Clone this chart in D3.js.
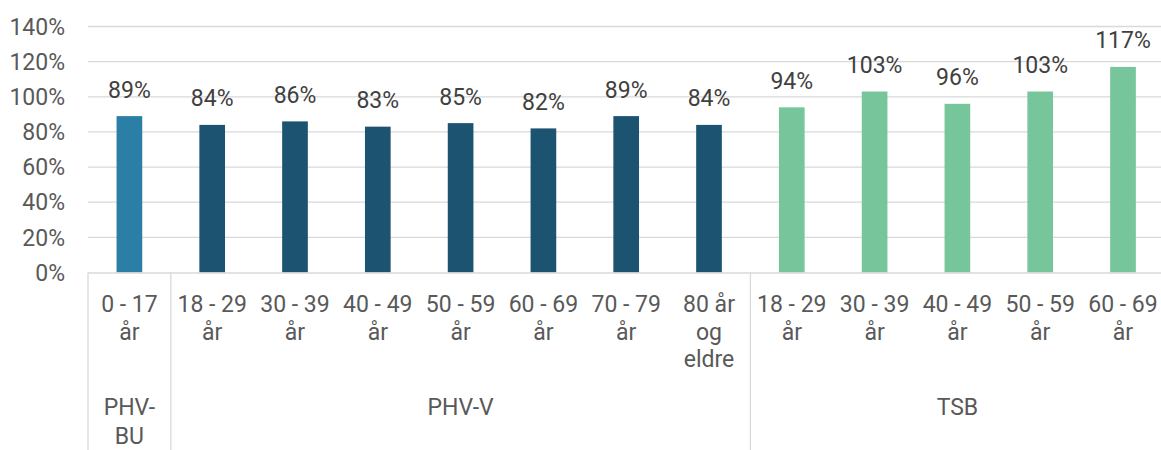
<!DOCTYPE html>
<html>
<head>
<meta charset="utf-8">
<script src="https://cdn.jsdelivr.net/npm/d3@7"></script>
<style>
  body { margin: 0; background: #fff; }
  svg { display: block; font-family: Roboto, sans-serif; }
</style>
</head>
<body>
<svg id="chart" width="1161" height="450"></svg>
<script>
// age categories (multi-line labels), values and groups
const categories = [
  ["0 - 17", "år"],
  ["18 - 29", "år"], ["30 - 39", "år"], ["40 - 49", "år"], ["50 - 59", "år"],
  ["60 - 69", "år"], ["70 - 79", "år"], ["80 år", "og", "eldre"],
  ["18 - 29", "år"], ["30 - 39", "år"], ["40 - 49", "år"], ["50 - 59", "år"], ["60 - 69", "år"]
];
const values = [0.89, 0.84, 0.86, 0.83, 0.85, 0.82, 0.89, 0.84, 0.94, 1.03, 0.96, 1.03, 1.17];
const groupOf = [0, 1, 1, 1, 1, 1, 1, 1, 2, 2, 2, 2, 2];
const groups = [["PHV-", "BU"], ["PHV-V"], ["TSB"]];
const groupColors = ["#2b7fa7", "#1b5370", "#76c59b"];
const yTicks = [0, 0.2, 0.4, 0.6, 0.8, 1.0, 1.2, 1.4];

const svg = d3.select("#chart");
const plotLeft = 88, plotRight = 1164.4, plotTop = 26.5, base = 272.5;
const lineH = 27.7;

const x = d3.scaleBand()
  .domain(d3.range(values.length))
  .range([plotLeft, plotRight])
  .paddingInner(0.69)
  .paddingOuter(0.345);
const step = x.step();

const y = d3.scaleLinear().domain([0, 1.4]).range([base, plotTop]);

// gridlines
svg.append("g")
  .selectAll("line")
  .data(yTicks.slice(1))
  .join("line")
  .attr("x1", plotLeft).attr("x2", plotRight)
  .attr("y1", d => y(d)).attr("y2", d => y(d))
  .attr("stroke", "#d9d9d9")
  .attr("stroke-width", 1.3);

// y axis labels
svg.append("g")
  .selectAll("text")
  .data(yTicks)
  .join("text")
  .attr("x", 65)
  .attr("y", d => y(d))
  .attr("dy", "0.36em")
  .attr("text-anchor", "end")
  .attr("fill", "#595959")
  .style("font-size", "23px")
  .text(d => d3.format(".0%")(d));

// bars
svg.append("g")
  .selectAll("rect")
  .data(values)
  .join("rect")
  .attr("x", (d, i) => x(i))
  .attr("width", x.bandwidth())
  .attr("y", d => y(d))
  .attr("height", d => base - y(d))
  .attr("fill", (d, i) => groupColors[groupOf[i]]);

// data labels
svg.append("g")
  .selectAll("text")
  .data(values)
  .join("text")
  .attr("x", (d, i) => x(i) + x.bandwidth() / 2)
  .attr("y", d => y(d) - 18.5)
  .attr("text-anchor", "middle")
  .attr("fill", "#404040")
  .style("font-size", "23px")
  .text(d => d3.format(".0%")(d));

// axis line
svg.append("line")
  .attr("x1", plotLeft).attr("x2", plotRight)
  .attr("y1", base + 0.5).attr("y2", base + 0.5)
  .attr("stroke", "#d9d9d9")
  .attr("stroke-width", 1.3);

// group separators
const groupBounds = groups.map((g, gi) => {
  const idx = d3.range(values.length).filter(i => groupOf[i] === gi);
  return [plotLeft + step * idx[0], plotLeft + step * (idx[idx.length - 1] + 1)];
});
const seps = [groupBounds[0][0]].concat(groupBounds.map(b => b[1]));
svg.append("g")
  .selectAll("line")
  .data(seps)
  .join("line")
  .attr("x1", d => d).attr("x2", d => d)
  .attr("y1", base).attr("y2", 450)
  .attr("stroke", "#d9d9d9")
  .attr("stroke-width", 1.3);

// category labels
const cat = svg.append("g")
  .selectAll("text")
  .data(categories)
  .join("text")
  .attr("text-anchor", "middle")
  .attr("fill", "#595959")
  .style("font-size", "23px");
cat.selectAll("tspan")
  .data((d, i) => d.map(t => ({ t, i })))
  .join("tspan")
  .attr("x", d => x(d.i) + x.bandwidth() / 2)
  .attr("y", (d, j) => 312 + j * lineH)
  .text(d => d.t);

// group labels
const grp = svg.append("g")
  .selectAll("text")
  .data(groups)
  .join("text")
  .attr("text-anchor", "middle")
  .attr("fill", "#595959")
  .style("font-size", "23px");
grp.selectAll("tspan")
  .data((d, gi) => d.map(t => ({ t, gi })))
  .join("tspan")
  .attr("x", d => (groupBounds[d.gi][0] + groupBounds[d.gi][1]) / 2)
  .attr("y", (d, j) => 415 + j * 28.5)
  .text(d => d.t);
</script>
</body>
</html>
